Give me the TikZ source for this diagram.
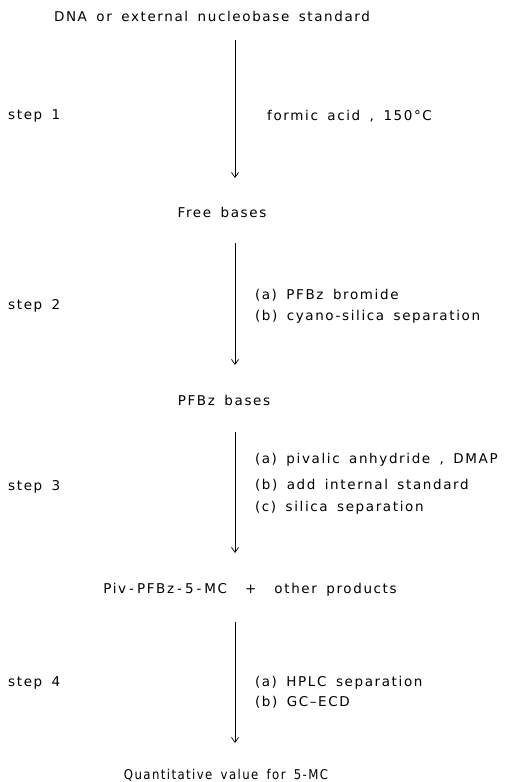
\documentclass[tikz,border=0pt]{standalone}
\usepackage{fontspec}
\setmainfont[LetterSpace=12,WordSpace=1.6]{DejaVu Sans}
\usetikzlibrary{arrows.meta}
\newcommand{\lbl}[1]{(\kern1.5pt#1\kern1.5pt)}
\newcommand{\hy}{\kern3pt-\kern3pt}
\begin{document}
\begin{tikzpicture}[x=1pt,y=-1pt,
  txt/.style={inner sep=0pt,font=\fontsize{13.5}{15}\selectfont},
  lft/.style={txt,anchor=west},
  flow/.style={line width=0.7pt,-{Straight Barb[length=5pt,width=7pt]}}]
\useasboundingbox (0,0) rectangle (511,782);
% main products
\node[txt] (dna) at (212,16) {DNA or external nucleobase standard};
\node[txt] (free) at (222,212) {Free bases};
\node[txt] (pfbz) at (224,400) {PFBz bases};
\node[txt] (piv) at (250,590) {Piv\hy PFBz\hy 5\hy MC\hspace{18pt}+\hspace{18pt}other products};
\node[txt,xscale=0.87,transform shape] (quant) at (226,775) {Quantitative value for 5-MC};
% step labels
\node[lft] (s1) at (8,116) {step 1};
\node[lft] (s2) at (8,306) {step 2};
\node[lft] (s3) at (8,487) {step 3};
\node[lft] (s4) at (8,683) {step 4};
% conditions
\node[lft] (c1) at (267,116) {formic acid , 150°C};
\node[lft] (c2a) at (255,295) {\lbl{a} PFBz bromide};
\node[lft] (c2b) at (255,317) {\lbl{b} cyano-silica separation};
\node[lft] (c3a) at (255,460) {\lbl{a} pivalic anhydride , DMAP};
\node[lft] (c3b) at (255,485) {\lbl{b} add internal standard};
\node[lft] (c3c) at (255,508) {\lbl{c} silica separation};
\node[lft] (c4a) at (255,683) {\lbl{a} HPLC separation};
\node[lft] (c4b) at (255,702) {\lbl{b} GC--ECD};
% arrows
\coordinate (a1s) at (235,40);  \coordinate (a1e) at (235,178);
\coordinate (a2s) at (235,243); \coordinate (a2e) at (235,365);
\coordinate (a3s) at (235,432); \coordinate (a3e) at (235,553);
\coordinate (a4s) at (235,622); \coordinate (a4e) at (235,743);
\draw[flow] (a1s) -- (a1e);
\draw[flow] (a2s) -- (a2e);
\draw[flow] (a3s) -- (a3e);
\draw[flow] (a4s) -- (a4e);
\end{tikzpicture}
\end{document}
